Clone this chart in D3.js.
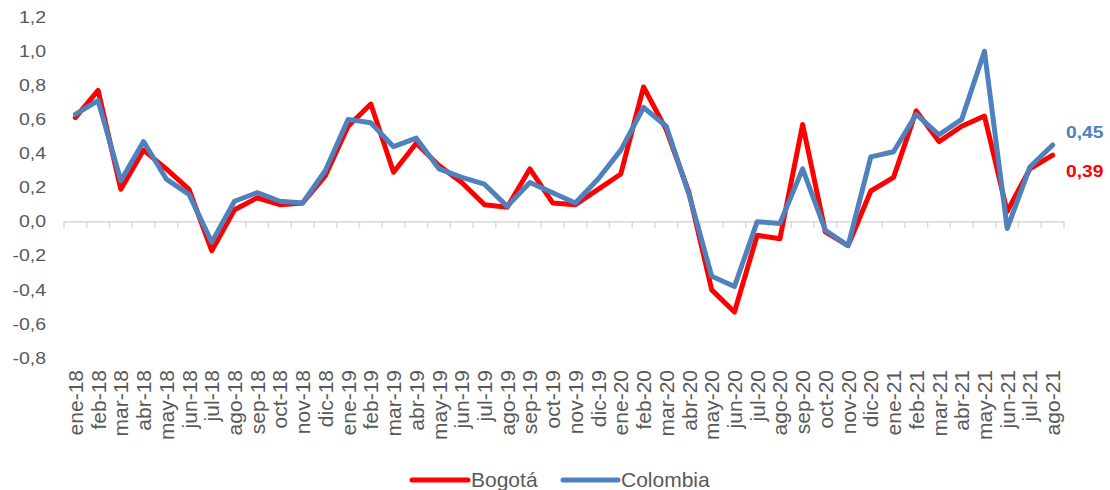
<!DOCTYPE html>
<html>
<head>
<meta charset="utf-8">
<script src="https://cdn.jsdelivr.net/npm/d3@7"></script>
<style>
  html, body { margin: 0; padding: 0; background: #fff; }
  svg { display: block; font-family: "Liberation Sans", Arial, sans-serif; }
</style>
</head>
<body>
<svg id="chart" width="1110" height="490"></svg>
<script>
const categories = [
  "ene-18","feb-18","mar-18","abr-18","may-18","jun-18","jul-18","ago-18","sep-18","oct-18","nov-18","dic-18",
  "ene-19","feb-19","mar-19","abr-19","may-19","jun-19","jul-19","ago-19","sep-19","oct-19","nov-19","dic-19",
  "ene-20","feb-20","mar-20","abr-20","may-20","jun-20","jul-20","ago-20","sep-20","oct-20","nov-20","dic-20",
  "ene-21","feb-21","mar-21","abr-21","may-21","jun-21","jul-21","ago-21"
];
const bogota = [
  0.61, 0.77, 0.19, 0.42, 0.31, 0.19, -0.17, 0.07, 0.14, 0.10, 0.11, 0.27,
  0.56, 0.69, 0.29, 0.46, 0.33, 0.23, 0.10, 0.085, 0.31, 0.11, 0.10, 0.19,
  0.28, 0.79, 0.54, 0.17, -0.40, -0.53, -0.08, -0.10, 0.57, -0.06, -0.14, 0.18,
  0.26, 0.65, 0.47, 0.56, 0.62, 0.06, 0.31, 0.39
];
const colombia = [
  0.63, 0.71, 0.24, 0.47, 0.25, 0.16, -0.12, 0.12, 0.17, 0.12, 0.11, 0.30,
  0.60, 0.58, 0.44, 0.49, 0.31, 0.26, 0.22, 0.09, 0.23, 0.17, 0.11, 0.25,
  0.42, 0.67, 0.56, 0.16, -0.32, -0.38, 0.00, -0.01, 0.31, -0.05, -0.14, 0.38,
  0.41, 0.63, 0.51, 0.60, 1.00, -0.04, 0.32, 0.45
];
const yTicks = [-0.8, -0.6, -0.4, -0.2, 0.0, 0.2, 0.4, 0.6, 0.8, 1.0, 1.2];
const seriesNames = ["Bogotá", "Colombia"];
const seriesColors = ["#FF0000", "#4F81BD"];

const svg = d3.select("#chart");
const textColor = "#595959";
const fmt = d => d.toFixed(1).replace(".", ",");
const fmt2 = d => d.toFixed(2).replace(".", ",");

const x = d3.scaleBand().domain(categories).range([64, 1064]).padding(0);
const y = d3.scaleLinear().domain([-0.8, 1.2]).range([358.1, 17.1]);
const cx = d => x(d) + x.bandwidth() / 2;

// Y axis labels
const yAxis = svg.append("g").attr("transform", "translate(46,0)")
  .call(d3.axisLeft(y).tickValues(yTicks).tickFormat(fmt).tickSize(0).tickPadding(0));
yAxis.select(".domain").remove();
yAxis.selectAll("text")
  .attr("fill", textColor)
  .attr("font-size", 16)
  .attr("font-family", "Liberation Sans, Arial, sans-serif")
  .attr("x", 0)
  .attr("transform", "scale(1.22,1)");

// Zero line with category boundary ticks
const bounds = categories.map(c => x(c)).concat([x.range()[1]]);
svg.append("line")
  .attr("x1", x.range()[0]).attr("x2", x.range()[1])
  .attr("y1", y(0)).attr("y2", y(0))
  .attr("stroke", "#D9D9D9").attr("stroke-width", 1.5);
svg.append("g").selectAll("line").data(bounds).join("line")
  .attr("x1", d => d).attr("x2", d => d)
  .attr("y1", y(0)).attr("y2", y(0) + 6)
  .attr("stroke", "#D9D9D9").attr("stroke-width", 1.5);

// X labels
const xAxis = svg.append("g").attr("transform", "translate(0,370)")
  .call(d3.axisBottom(x).tickSize(0).tickPadding(0));
xAxis.select(".domain").remove();
xAxis.selectAll("text")
  .attr("fill", textColor)
  .attr("font-size", 21)
  .attr("font-family", "Liberation Sans, Arial, sans-serif")
  .attr("text-anchor", "end")
  .attr("transform", "rotate(-90)")
  .attr("x", 0)
  .attr("y", 0)
  .attr("dy", "0.36em");

// Lines
const line = d3.line()
  .x((d, i) => cx(categories[i]))
  .y(d => y(d));
const allSeries = [bogota, colombia];
svg.append("g").selectAll("path").data(allSeries).join("path")
  .attr("d", d => line(d))
  .attr("fill", "none")
  .attr("stroke", (d, i) => seriesColors[i])
  .attr("stroke-width", 5)
  .attr("stroke-linejoin", "round")
  .attr("stroke-linecap", "round");

// End labels
const last = categories.length - 1;
const endLabels = [
  { v: colombia[last], color: seriesColors[1], ty: 138 },
  { v: bogota[last], color: seriesColors[0], ty: 177 }
];
svg.append("g").selectAll("text").data(endLabels).join("text")
  .attr("transform", d => `translate(1066,${d.ty}) scale(1.2,1)`)
  .attr("fill", d => d.color)
  .attr("font-size", 16)
  .attr("font-weight", "bold")
  .text(d => fmt2(d.v));

// Legend
const legendItems = [
  { name: seriesNames[0], color: seriesColors[0], x1: 412, x2: 468, tx: 471 },
  { name: seriesNames[1], color: seriesColors[1], x1: 563, x2: 618, tx: 621 }
];
const lg = svg.append("g");
lg.selectAll("line").data(legendItems).join("line")
  .attr("x1", d => d.x1).attr("x2", d => d.x2)
  .attr("y1", 480).attr("y2", 480)
  .attr("stroke", d => d.color).attr("stroke-width", 5)
  .attr("stroke-linecap", "round");
lg.selectAll("text").data(legendItems).join("text")
  .attr("x", d => d.tx).attr("y", 487)
  .attr("fill", textColor)
  .attr("font-size", 21)
  .text(d => d.name);
</script>
</body>
</html>
